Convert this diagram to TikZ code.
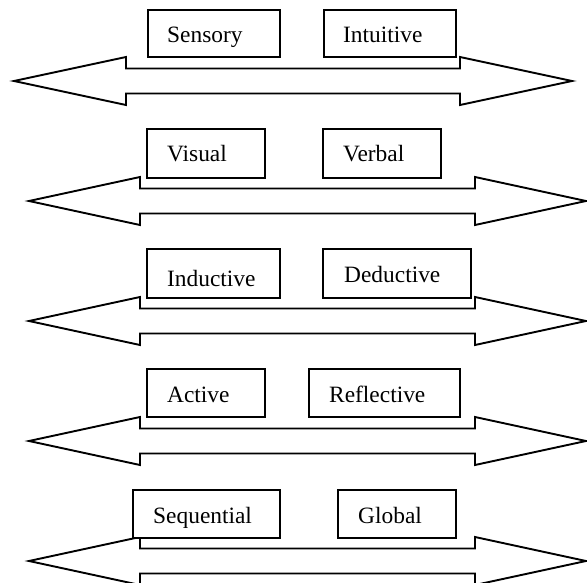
\documentclass[tikz,border=0pt]{standalone}
\usepackage{fontspec}
\setmainfont{Liberation Serif}
\begin{document}
\begin{tikzpicture}[x=1pt,y=-1pt,
  box/.style={draw=black, line width=1.8pt, rectangle, inner sep=0pt, anchor=north west},
  lbl/.style={anchor=base west, inner sep=0pt, font=\fontsize{23.4}{28}\selectfont},
  barrow/.style={draw=black, line width=1.9pt, line join=miter}]
\useasboundingbox (0,0) rectangle (587,583);
\fill[white] (0,0) rectangle (587,583);
% block arrows: tipL, baseL, baseR, tipR, centre
\foreach \tl/\bl/\br/\tr/\c in {14/126/460/572/81, 29/140/475/586/201, 29/140/475/586/321, 29/140/475/586/441, 29/140/475/586/561}{
  \draw[barrow] (\tl,\c) -- (\bl,\c-24) -- (\bl,\c-12.5) -- (\br,\c-12.5) -- (\br,\c-24) -- (\tr,\c)
     -- (\br,\c+24) -- (\br,\c+12.5) -- (\bl,\c+12.5) -- (\bl,\c+24) -- cycle;
}
% row 1
\node[box, minimum width=132pt, minimum height=47pt] (sen) at (147,9) {};
\node[box, minimum width=132pt, minimum height=47pt] (int) at (323,9) {};
\node[lbl] (tsen) at ([shift={(20,34)}]sen.north west) {Sensory};
\node[lbl] (tint) at ([shift={(20,34)}]int.north west) {Intuitive};
% row 2
\node[box, minimum width=118pt, minimum height=49pt] (vis) at (146,128) {};
\node[box, minimum width=118pt, minimum height=49pt] (ver) at (322,128) {};
\node[lbl] (tvis) at ([shift={(21,34)}]vis.north west) {Visual};
\node[lbl] (tver) at ([shift={(21,34)}]ver.north west) {Verbal};
% row 3
\node[box, minimum width=133pt, minimum height=49pt] (ind) at (146,248) {};
\node[box, minimum width=148pt, minimum height=49pt] (ded) at (322,248) {};
\node[lbl] (tind) at ([shift={(21,39)}]ind.north west) {Inductive};
\node[lbl] (tded) at ([shift={(22,34)}]ded.north west) {Deductive};
% row 4
\node[box, minimum width=118pt, minimum height=48pt] (act) at (146,368) {};
\node[box, minimum width=151pt, minimum height=48pt] (ref) at (308,368) {};
\node[lbl] (tact) at ([shift={(21,34)}]act.north west) {Active};
\node[lbl] (tref) at ([shift={(21,34)}]ref.north west) {Reflective};
% row 5
\node[box, fill=white, minimum width=147pt, minimum height=48pt] (seq) at (132,489) {};
\node[box, minimum width=118pt, minimum height=48pt] (glo) at (337,489) {};
\node[lbl] (tseq) at ([shift={(21,34)}]seq.north west) {Sequential};
\node[lbl] (tglo) at ([shift={(21,34)}]glo.north west) {Global};
\end{tikzpicture}
\end{document}
